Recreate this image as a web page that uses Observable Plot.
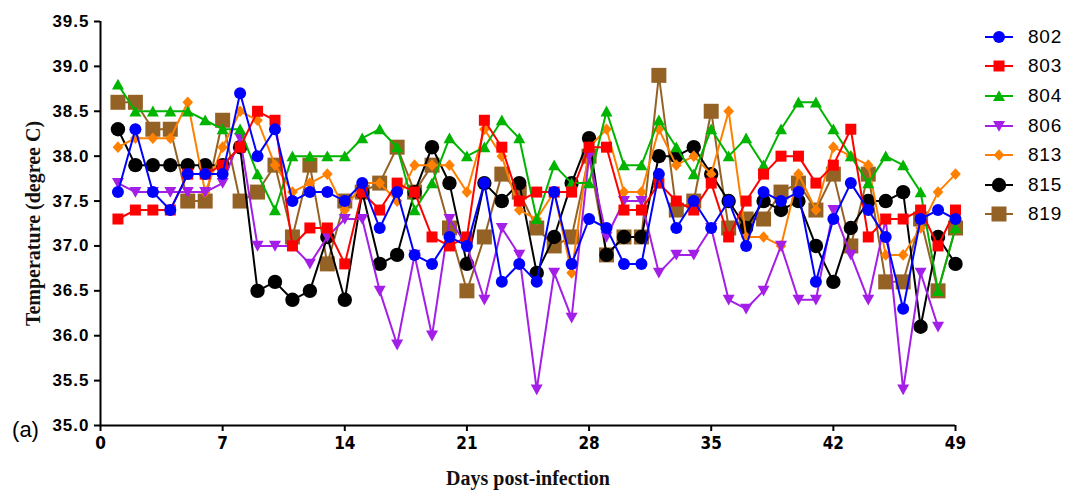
<!DOCTYPE html>
<html><head><meta charset="utf-8">
<script src="https://cdn.jsdelivr.net/npm/d3@7"></script>
<script src="https://cdn.jsdelivr.net/npm/@observablehq/plot@0.6"></script>
<style>
html,body{margin:0;padding:0;background:#fff;}
#wrap{position:relative;width:1070px;height:496px;overflow:hidden;}
#legend{position:absolute;left:983px;top:22px;font-family:"Liberation Sans",Arial,sans-serif;font-size:19px;letter-spacing:0.8px;color:#000;}
.row{display:flex;align-items:center;height:29.6px;}
.row svg{width:32px;height:22px;margin-right:13px;overflow:visible;}
g[aria-label="y-axis tick label"] text{font-family:"Liberation Sans",Arial,sans-serif;font-weight:bold;font-size:17px;letter-spacing:1px;}
g[aria-label="x-axis tick label"] text{font-family:"Liberation Sans Narrow","DejaVu Sans Condensed","Liberation Sans",sans-serif;font-weight:bold;font-size:17px;font-stretch:condensed;}
g[aria-label="y-axis tick"] path, g[aria-label="x-axis tick"] path{stroke-width:2px;stroke:#000;stroke-opacity:1;}
</style>
</head><body>
<div id="wrap"><div id="legend"></div></div>
<script>
// ---- data ----
const days = [1,2,3,4,5,6,7,8,9,10,11,12,13,14,15,16,17,18,19,20,21,22,23,24,25,26,27,28,29,30,31,32,33,34,35,36,37,38,39,40,41,42,43,44,45,46,47,48,49];
const seriesNames = ["802","803","804","806","813","815","819"];
const t802 = [37.6,38.3,37.6,37.4,37.8,37.8,37.8,38.7,38.0,38.3,
              37.5,37.6,37.6,37.5,37.7,37.2,37.6,36.9,36.8,37.1,
              37.0,37.7,36.6,36.8,36.6,37.6,36.8,37.3,37.2,36.8,
              36.8,37.8,37.2,37.5,37.2,37.5,37.0,37.6,37.5,37.6,
              36.6,37.3,37.7,37.4,37.1,36.3,37.3,37.4,37.3];
const t803 = [37.3,37.4,37.4,37.4,37.8,37.8,37.9,38.1,38.5,38.4,
              37.0,37.2,37.2,36.8,37.6,37.4,37.7,37.6,37.1,37.0,
              37.1,38.4,38.1,37.5,37.6,37.6,37.6,38.1,38.1,37.4,
              37.4,37.7,37.5,37.4,37.7,37.1,37.5,37.8,38.0,38.0,
              37.7,37.9,38.3,37.1,37.3,37.3,37.4,37.0,37.4];
const t804 = [38.8,38.5,38.5,38.5,38.5,38.4,38.3,38.3,37.8,37.4,
              38.0,38.0,38.0,38.0,38.2,38.3,38.1,37.4,37.7,38.2,
              38.0,38.1,38.4,38.2,37.3,37.9,37.7,37.7,38.5,37.9,
              37.9,38.4,38.1,37.8,38.3,38.0,38.2,37.9,38.3,38.6,
              38.6,38.3,38.0,37.7,38.0,37.9,37.6,36.5,37.2];
const t806 = [37.7,37.6,37.6,37.6,37.6,37.6,37.7,38.2,37.0,37.0,
              37.0,36.8,37.1,37.3,37.3,36.5,35.9,36.9,36.0,37.3,
              37.0,36.4,37.2,36.9,35.4,36.7,36.2,38.0,37.1,37.5,
              37.5,36.7,36.9,36.9,37.2,36.4,36.3,36.5,37.0,36.4,
              36.4,37.4,36.9,36.4,37.3,35.4,36.7,36.1,null];
const t813 = [38.1,38.2,38.2,38.2,38.6,37.6,38.1,38.5,38.4,37.9,
              37.6,37.7,37.8,37.4,37.7,37.7,37.5,37.9,37.9,37.9,
              37.6,38.3,38.0,37.4,37.3,37.6,36.7,38.1,38.3,37.6,
              37.6,38.3,37.9,38.0,37.8,38.5,37.1,37.1,37.0,37.8,
              37.4,38.1,38.0,37.9,36.9,36.9,37.2,37.6,37.8];
const t815 = [38.3,37.9,37.9,37.9,37.9,37.9,37.9,38.1,36.5,36.6,
              36.4,36.5,37.1,36.4,37.6,36.8,36.9,37.6,38.1,37.7,
              36.8,37.7,37.5,37.7,36.7,37.1,37.7,38.2,36.9,37.1,
              37.1,38.0,38.0,38.1,37.8,37.5,37.2,37.5,37.4,37.5,
              37.0,36.6,37.2,37.5,37.5,37.6,36.1,37.1,36.8];
const t819 = [38.6,38.6,38.3,38.3,37.5,37.5,38.4,37.5,37.6,37.9,
              37.1,37.9,36.8,37.5,37.6,37.7,38.1,37.6,37.9,37.2,
              36.5,37.1,37.8,37.6,37.2,37.0,37.1,38.0,36.9,37.1,
              37.1,38.9,37.4,37.5,38.5,37.2,37.3,37.3,37.6,37.7,
              37.4,37.8,37.0,37.8,36.6,36.6,37.3,36.5,37.2];
const xTicks = [0,7,14,21,28,35,42,49];
const yTicks = [35.0,35.5,36.0,36.5,37.0,37.5,38.0,38.5,39.0,39.5];
const xLabel = "Days post-infection";
const yLabel = "Temperature (degree C)";
const panelLabel = "(a)";

// ---- styles ----
const sym = {
  circle:{draw(c,s){const r=Math.sqrt(s/Math.PI);c.moveTo(r,0);c.arc(0,0,r,0,2*Math.PI);}},
  square:{draw(c,s){const r=Math.sqrt(s/Math.PI);c.moveTo(-r,-r);c.lineTo(r,-r);c.lineTo(r,r);c.lineTo(-r,r);c.closePath();}},
  triUp:{draw(c,s){const r=Math.sqrt(s/Math.PI);c.moveTo(0,-0.95*r);c.lineTo(r,0.85*r);c.lineTo(-r,0.85*r);c.closePath();}},
  triDown:{draw(c,s){const r=Math.sqrt(s/Math.PI);c.moveTo(0,0.95*r);c.lineTo(r,-0.85*r);c.lineTo(-r,-0.85*r);c.closePath();}},
  diamond:{draw(c,s){const r=Math.sqrt(s/Math.PI);c.moveTo(0,-1.1*r);c.lineTo(r,0);c.lineTo(0,1.1*r);c.lineTo(-r,0);c.closePath();}}
};
const styleOf = {
  "802":{color:"#0000ff", symbol:sym.circle, r:6},
  "803":{color:"#ff0000", symbol:sym.square, r:5.5},
  "804":{color:"#00b400", symbol:sym.triUp, r:6},
  "806":{color:"#a31ee6", symbol:sym.triDown, r:6},
  "813":{color:"#ff8000", symbol:sym.diamond, r:5.3},
  "815":{color:"#000000", symbol:sym.circle, r:7.2},
  "819":{color:"#956226", symbol:sym.square, r:7.5}
};
const valuesOf = {"802":t802,"803":t803,"804":t804,"806":t806,"813":t813,"815":t815,"819":t819};

const seriesMarks = [];
for (const name of seriesNames.slice().reverse()) {
  const st = styleOf[name];
  const rows = days.map((d,i)=>({day:d, temp:valuesOf[name][i]})).filter(d=>d.temp!=null);
  seriesMarks.push(Plot.line(rows,{x:"day",y:"temp",stroke:st.color,strokeWidth:2,strokeLinejoin:"miter"}));
  seriesMarks.push(Plot.dot(rows,{x:"day",y:"temp",symbol:()=>st.symbol,r:st.r,fill:st.color,stroke:"none"}));
}

const chart = Plot.plot({
  width:1070, height:496,
  marginLeft:100, marginRight:115, marginTop:21, marginBottom:71,
  x:{domain:[0,49]},
  y:{domain:[35,39.5]},
  symbol:{type:"identity"},
  style:{background:"white", overflow:"visible", color:"black"},
  marks:[
    Plot.axisY({ticks:yTicks, tickFormat:d=>d.toFixed(1), tickSize:6, tickPadding:5, label:null}),
    Plot.axisX({ticks:xTicks, tickFormat:d=>String(d), tickSize:6, tickPadding:5, label:null}),
    ...seriesMarks,
    Plot.ruleX([0],{stroke:"black",strokeWidth:2}),
    Plot.ruleY([35],{stroke:"black",strokeWidth:2}),
    Plot.text([yLabel],{frameAnchor:"left", dx:-67, rotate:-90, textAnchor:"middle", lineAnchor:"middle", fontFamily:"Liberation Serif, Times New Roman, serif", fontWeight:"bold", fontSize:20, letterSpacing:"1.8px", fill:"#111"}),
    Plot.text([xLabel],{frameAnchor:"bottom", dy:53, textAnchor:"middle", lineAnchor:"middle", fontFamily:"Liberation Serif, Times New Roman, serif", fontWeight:"bold", fontSize:20, letterSpacing:"1px", fill:"#111"}),
    Plot.text([panelLabel],{frameAnchor:"bottom-left", dx:-75, dy:4, textAnchor:"middle", lineAnchor:"middle", fontFamily:"Liberation Sans, Arial, sans-serif", fontSize:22, fill:"#000"})
  ]
});
document.getElementById("wrap").prepend(chart);

// ---- legend ----
const leg = document.getElementById("legend");
for (const name of seriesNames) {
  const st = styleOf[name];
  const row = document.createElement("div");
  row.className = "row";
  const svg = d3.create("svg").attr("viewBox","-16 -11 32 22");
  svg.append("line").attr("x1",-14).attr("x2",14).attr("y1",0).attr("y2",0).attr("stroke",st.color).attr("stroke-width",2);
  svg.append("path").attr("d", d3.symbol(st.symbol, Math.PI*st.r*st.r)()).attr("fill",st.color);
  row.appendChild(svg.node());
  const span = document.createElement("span");
  span.textContent = name;
  row.appendChild(span);
  leg.appendChild(row);
}
</script>
</body></html>
